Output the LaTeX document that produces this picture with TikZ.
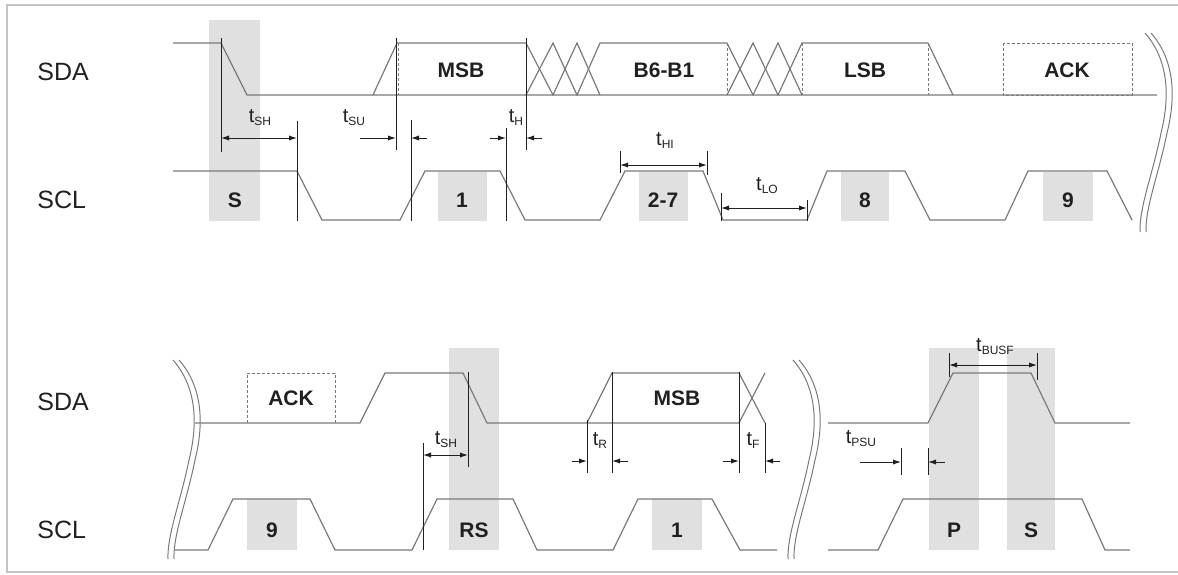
\documentclass[tikz,border=0pt]{standalone}
\usepackage{fontspec}
\setmainfont{Liberation Sans}
\usetikzlibrary{arrows.meta}

\definecolor{siggray}{HTML}{7A7A7A}
\definecolor{bandgray}{HTML}{E0E0E0}
\definecolor{framegray}{HTML}{C4C4C4}
\definecolor{inkgray}{HTML}{202020}

\tikzset{
  sig/.style={draw=siggray, line width=0.6pt},
  tickline/.style={draw=inkgray, line width=0.45pt},
  dimone/.style={draw=inkgray, line width=0.5pt, -{Latex[length=4pt,width=2.6pt]}},
  dimtwo/.style={draw=inkgray, line width=0.5pt, {Latex[length=4pt,width=2.6pt]}-{Latex[length=4pt,width=2.6pt]}},
  band/.style={fill=bandgray, draw=none},
  dashbox/.style={draw=siggray, line width=0.5pt, dash pattern=on 1.5pt off 1pt},
  signame/.style={anchor=west, inner sep=0pt, font=\fontsize{12.5}{14}\selectfont, text=inkgray},
  bitname/.style={inner sep=0pt, font=\bfseries\fontsize{10.5}{12}\selectfont, text=inkgray},
  tname/.style={inner sep=0pt, font=\fontsize{10}{11}\selectfont, text=inkgray},
  brk/.pic={
    \draw[siggray, line width=0.5pt] (0,0) .. controls (22,25) and (26,60) .. (16,100) .. controls (8,140) and (-6,175) .. (-5,199);
    \draw[siggray, line width=0.5pt] (6,0) .. controls (28,25) and (32,60) .. (22,100) .. controls (14,140) and (0,175) .. (1,199);
  }
}
\newcommand{\tsub}[2]{#1\raisebox{-1.5pt}{\fontsize{6}{6}\selectfont #2}}

\begin{document}
\begin{tikzpicture}[x=0.5pt, y=-0.5pt]
		\useasboundingbox (0,0) rectangle (1178,574);
		% Frame
		\draw[framegray, line width=1pt] (1178,5) -- (7,5) -- (7,572) -- (1178,572);

		% Gray bands
		\fill[band] (209,20) rectangle (260,221);
		\fill[band] (438,172) rectangle (487,221);
		\fill[band] (639,172) rectangle (688,221);
		\fill[band] (841,172) rectangle (889,221);
		\fill[band] (1043,172) rectangle (1093,221);
		\fill[band] (247,499) rectangle (297,550);
		\fill[band] (449,348) rectangle (499,550);
		\fill[band] (652,499) rectangle (702,550);
		\fill[band] (929,348) rectangle (979,550);
		\fill[band] (1007,348) rectangle (1055,550);

		% Signal names
		\node[signame] (sdaA) at (37,72) {SDA};
		\node[signame] (sclA) at (37,200) {SCL};
		\node[signame] (sdaB) at (37,402) {SDA};
		\node[signame] (sclB) at (37,530) {SCL};

		% Upper SDA
		\draw[sig] (173,43) -- (221,43) -- (247,95) -- (1157,95);
		\draw[sig] (373,95) -- (397,43) -- (526,43);
		\draw[sig] (526,43) -- (553,95) -- (577,43) -- (600,95);
		\draw[sig] (526,95) -- (553,43) -- (577,95) -- (600,43) -- (727,43);
		\draw[sig] (727,43) -- (753,95) -- (778,43) -- (802,95);
		\draw[sig] (727,95) -- (753,43) -- (778,95) -- (802,43) -- (928,43) -- (953,95);
		\draw[dashbox] (398,43) -- (398,95);
		\draw[dashbox] (727,43) -- (727,95);
		\draw[dashbox] (802,43) -- (802,95);
		\draw[dashbox] (928,43) -- (928,95);
		\draw[dashbox] (1003,43) rectangle (1132,95);

		% Upper SCL
		\draw[sig] (173,171) -- (297,171) -- (322,220) -- (400,220) -- (425,171) -- (500,171) -- (525,220)
			-- (600,220) -- (625,171) -- (703,171) -- (723,220) -- (807,220) -- (827,171) -- (905,171)
			-- (930,220) -- (1005,220) -- (1028,171) -- (1107,171) -- (1132,220);

		% Upper markers
		\draw[tickline] (221,38) -- (221,152);
		\draw[tickline] (297,121) -- (297,221);
		\draw[tickline] (396,38) -- (396,150);
		\draw[tickline] (411,120) -- (411,221);
		\draw[tickline] (506,128) -- (506,221);
		\draw[tickline] (526,38) -- (526,150);
		\draw[tickline] (620,151) -- (620,173);
		\draw[tickline] (707,151) -- (707,175);
		\draw[tickline] (721,193) -- (721,221);
		\draw[tickline] (807,200) -- (807,221);

		% Upper timings
		\draw[dimtwo] (221,138) -- (297,138);
		\draw[dimone] (360,138) -- (396,138);
		\draw[dimone] (427,138) -- (411,138);
		\draw[dimone] (490,138) -- (506,138);
		\draw[dimone] (542,138) -- (526,138);
		\draw[dimtwo] (620,165) -- (707,165);
		\draw[dimtwo] (721,208) -- (807,208);
		\node[tname] (tshA) at (260,118) {\tsub{t}{SH}};
		\node[tname] (tsu) at (354,118) {\tsub{t}{SU}};
		\node[tname] (th) at (516,118) {\tsub{t}{H}};
		\node[tname] (thi) at (665,141) {\tsub{t}{HI}};
		\node[tname] (tlo) at (767,186) {\tsub{t}{LO}};

		% Upper bit labels
		\node[bitname] (msbA) at (461,70) {MSB};
		\node[bitname] (mid) at (664,70) {B6-B1};
		\node[bitname] (lsb) at (865,70) {LSB};
		\node[bitname] (ackA) at (1067,70) {ACK};
		\node[bitname] (start) at (235,200) {S};
		\node[bitname] (clkA) at (462,200) {1};
		\node[bitname] (clkB) at (663,200) {2-7};
		\node[bitname] (clkC) at (865,200) {8};
		\node[bitname] (clkD) at (1068,200) {9};

		% Breaks
		\pic at (1145,33) {brk};
		\pic at (173,360) {brk};
		\pic at (793,360) {brk};

		% Lower SDA
		\draw[sig] (195,423) -- (360,423) -- (385,373) -- (463,373) -- (487,423) -- (739,423) -- (765,373);
		\draw[sig] (587,423) -- (612,373) -- (739,373) -- (765,423);
		\draw[dashbox] (247,423) -- (247,373) -- (335,373) -- (335,423);
		\draw[sig] (828,423) -- (928,423) -- (953,373) -- (1031,373) -- (1055,423) -- (1130,423);

		% Lower SCL
		\draw[sig] (175,550) -- (208,550) -- (233,499) -- (310,499) -- (335,550) -- (412,550) -- (437,499)
			-- (513,499) -- (537,550) -- (613,550) -- (638,499) -- (712,499) -- (740,550) -- (777,550);
		\draw[sig] (828,550) -- (878,550) -- (903,499) -- (1082,499) -- (1105,550) -- (1130,550);

		% Lower markers
		\draw[tickline] (423,443) -- (423,550);
		\draw[tickline] (468,372) -- (468,467);
		\draw[tickline] (587,420) -- (587,473);
		\draw[tickline] (612,372) -- (612,473);
		\draw[tickline] (739,372) -- (739,473);
		\draw[tickline] (765,423) -- (765,473);
		\draw[tickline] (949,353) -- (949,377);
		\draw[tickline] (1037,353) -- (1037,380);
		\draw[tickline] (901,448) -- (901,475);
		\draw[tickline] (928,448) -- (928,475);

		% Lower timings
		\draw[dimtwo] (423,455) -- (468,455);
		\draw[dimone] (572,461) -- (587,461);
		\draw[dimone] (628,461) -- (612,461);
		\draw[dimone] (723,461) -- (739,461);
		\draw[dimone] (780,461) -- (765,461);
		\draw[dimtwo] (949,365) -- (1037,365);
		\draw[dimone] (860,462) -- (901,462);
		\draw[dimone] (945,462) -- (928,462);
		\node[tname] (tshB) at (446,440) {\tsub{t}{SH}};
		\node[tname] (tr) at (600,441) {\tsub{t}{R}};
		\node[tname] (tf) at (753,441) {\tsub{t}{F}};
		\node[tname] (tbusf) at (995,347) {\tsub{t}{BUSF}};
		\node[tname] (tpsu) at (861,439) {\tsub{t}{PSU}};

		% Lower bit labels
		\node[bitname] (ackB) at (291,398) {ACK};
		\node[bitname] (msbB) at (677,398) {MSB};
		\node[bitname] (clkE) at (272,530) {9};
		\node[bitname] (rstart) at (474,530) {RS};
		\node[bitname] (clkF) at (677,530) {1};
		\node[bitname] (stop) at (954,530) {P};
		\node[bitname] (startB) at (1031,530) {S};
\end{tikzpicture}
\end{document}
